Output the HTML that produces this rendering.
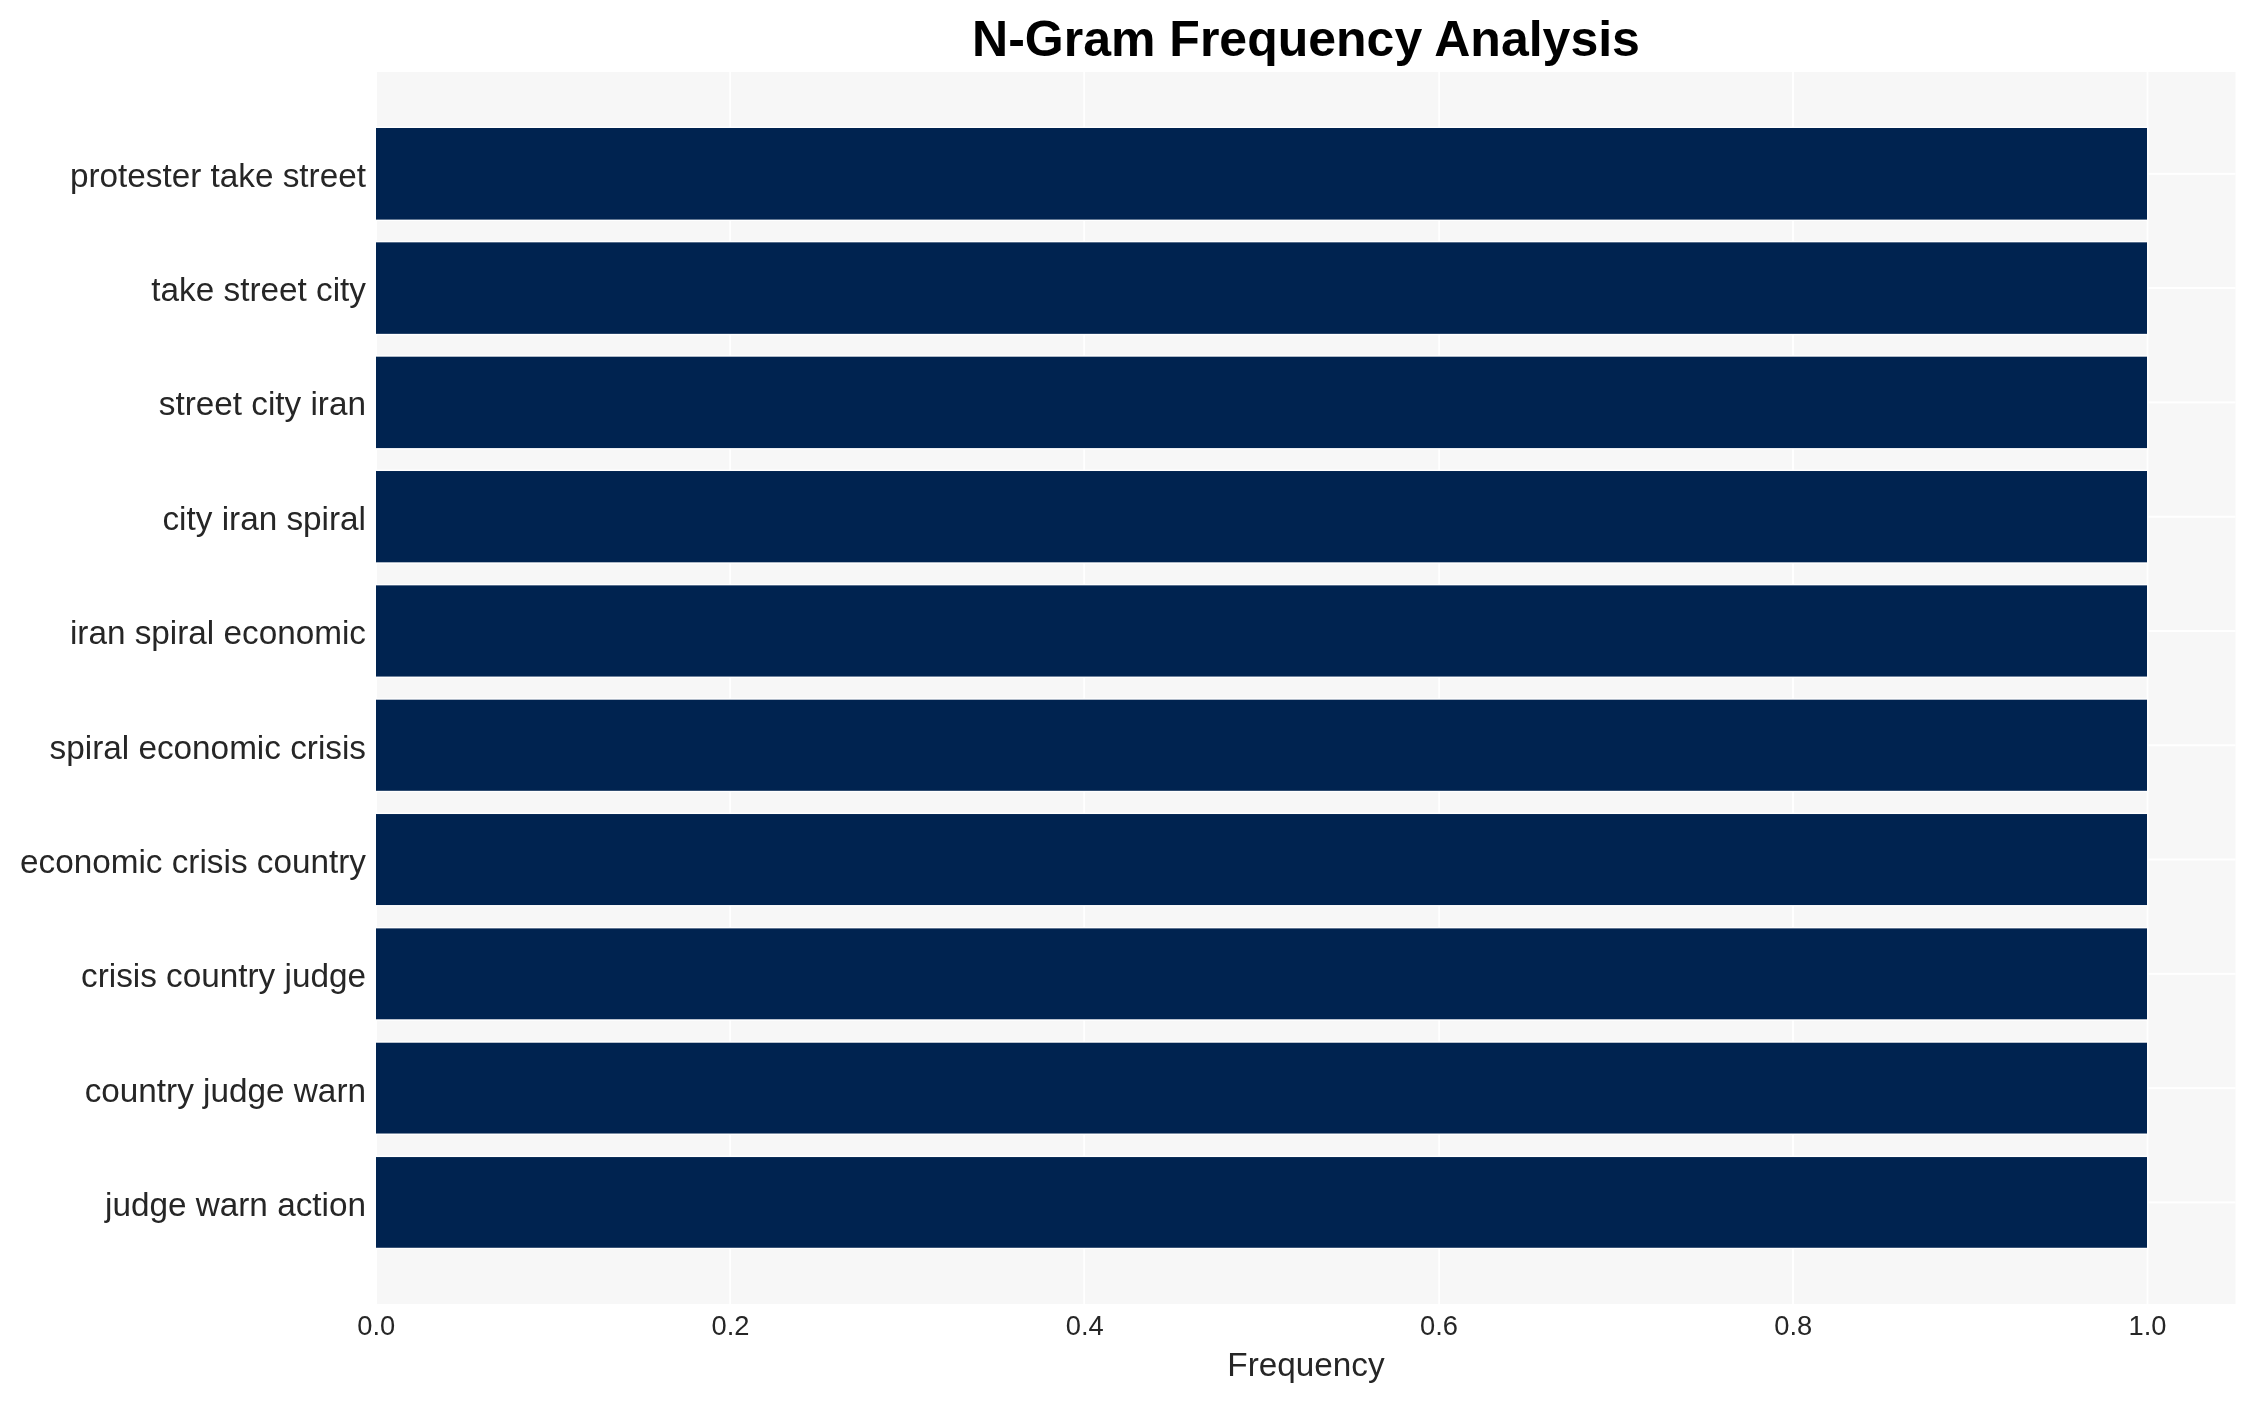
<!DOCTYPE html>
<html><head><meta charset="utf-8"><style>
html,body{margin:0;padding:0;background:#fff;width:2255px;height:1402px;overflow:hidden;position:relative}
svg{display:block;position:absolute;left:0;top:0}
.txt{will-change:transform}
text{font-family:"Liberation Sans",sans-serif}
.yl{font-size:33.3px;fill:#262626}
.xt{font-size:27.3px;fill:#262626}
.xl{font-size:33.3px;fill:#262626}
.ti{font-size:50px;font-weight:bold;fill:#000}
</style></head><body>
<svg width="2255" height="1402" viewBox="0 0 2255 1402">
<rect x="377.0" y="72.0" width="1858.5" height="1232.0" fill="#f7f7f7"/>
<rect x="729.30" y="72.0" width="1.8" height="1232.0" fill="#fff"/>
<rect x="1083.30" y="72.0" width="1.8" height="1232.0" fill="#fff"/>
<rect x="1438.30" y="72.0" width="1.8" height="1232.0" fill="#fff"/>
<rect x="1792.10" y="72.0" width="1.8" height="1232.0" fill="#fff"/>
<rect x="2146.60" y="72.0" width="1.8" height="1232.0" fill="#fff"/>
<rect x="377.0" y="172.80" width="1858.5" height="2.0" fill="#fff"/>
<rect x="377.0" y="287.09" width="1858.5" height="2.0" fill="#fff"/>
<rect x="377.0" y="401.38" width="1858.5" height="2.0" fill="#fff"/>
<rect x="377.0" y="515.67" width="1858.5" height="2.0" fill="#fff"/>
<rect x="377.0" y="629.96" width="1858.5" height="2.0" fill="#fff"/>
<rect x="377.0" y="744.25" width="1858.5" height="2.0" fill="#fff"/>
<rect x="377.0" y="858.54" width="1858.5" height="2.0" fill="#fff"/>
<rect x="377.0" y="972.83" width="1858.5" height="2.0" fill="#fff"/>
<rect x="377.0" y="1087.12" width="1858.5" height="2.0" fill="#fff"/>
<rect x="377.0" y="1201.41" width="1858.5" height="2.0" fill="#fff"/>
<rect x="374.6" y="126.60" width="1773.80" height="94.40" fill="#fff"/>
<rect x="374.6" y="240.94" width="1773.80" height="94.30" fill="#fff"/>
<rect x="374.6" y="355.28" width="1773.80" height="94.20" fill="#fff"/>
<rect x="374.6" y="469.62" width="1773.80" height="94.10" fill="#fff"/>
<rect x="374.6" y="583.96" width="1773.80" height="94.00" fill="#fff"/>
<rect x="374.6" y="698.30" width="1773.80" height="93.90" fill="#fff"/>
<rect x="374.6" y="812.64" width="1773.80" height="93.80" fill="#fff"/>
<rect x="374.6" y="926.98" width="1773.80" height="93.70" fill="#fff"/>
<rect x="374.6" y="1041.32" width="1773.80" height="93.60" fill="#fff"/>
<rect x="374.6" y="1155.66" width="1773.80" height="93.50" fill="#fff"/>
<rect x="376.0" y="128.00" width="1771.00" height="91.60" fill="#002350"/>
<rect x="376.0" y="242.34" width="1771.00" height="91.50" fill="#002350"/>
<rect x="376.0" y="356.68" width="1771.00" height="91.40" fill="#002350"/>
<rect x="376.0" y="471.02" width="1771.00" height="91.30" fill="#002350"/>
<rect x="376.0" y="585.36" width="1771.00" height="91.20" fill="#002350"/>
<rect x="376.0" y="699.70" width="1771.00" height="91.10" fill="#002350"/>
<rect x="376.0" y="814.04" width="1771.00" height="91.00" fill="#002350"/>
<rect x="376.0" y="928.38" width="1771.00" height="90.90" fill="#002350"/>
<rect x="376.0" y="1042.72" width="1771.00" height="90.80" fill="#002350"/>
<rect x="376.0" y="1157.06" width="1771.00" height="90.70" fill="#002350"/>
</svg>
<svg class="txt" width="2255" height="1402" viewBox="0 0 2255 1402">
<text x="366.0" y="186.80" text-anchor="end" class="yl">protester take street</text>
<text x="366.0" y="301.14" text-anchor="end" class="yl">take street city</text>
<text x="366.0" y="415.48" text-anchor="end" class="yl">street city iran</text>
<text x="366.0" y="529.82" text-anchor="end" class="yl">city iran spiral</text>
<text x="366.0" y="644.16" text-anchor="end" class="yl">iran spiral economic</text>
<text x="366.0" y="758.50" text-anchor="end" class="yl">spiral economic crisis</text>
<text x="366.0" y="872.84" text-anchor="end" class="yl">economic crisis country</text>
<text x="366.0" y="987.18" text-anchor="end" class="yl">crisis country judge</text>
<text x="366.0" y="1101.52" text-anchor="end" class="yl">country judge warn</text>
<text x="366.0" y="1215.86" text-anchor="end" class="yl">judge warn action</text>
<text x="376.20" y="1335" text-anchor="middle" class="xt">0.0</text>
<text x="730.46" y="1335" text-anchor="middle" class="xt">0.2</text>
<text x="1084.72" y="1335" text-anchor="middle" class="xt">0.4</text>
<text x="1438.98" y="1335" text-anchor="middle" class="xt">0.6</text>
<text x="1793.24" y="1335" text-anchor="middle" class="xt">0.8</text>
<text x="2147.50" y="1335" text-anchor="middle" class="xt">1.0</text>
<text x="1306" y="1375.9" text-anchor="middle" class="xl">Frequency</text>
<text x="1306" y="56" text-anchor="middle" class="ti">N-Gram Frequency Analysis</text>
</svg>
</body></html>
